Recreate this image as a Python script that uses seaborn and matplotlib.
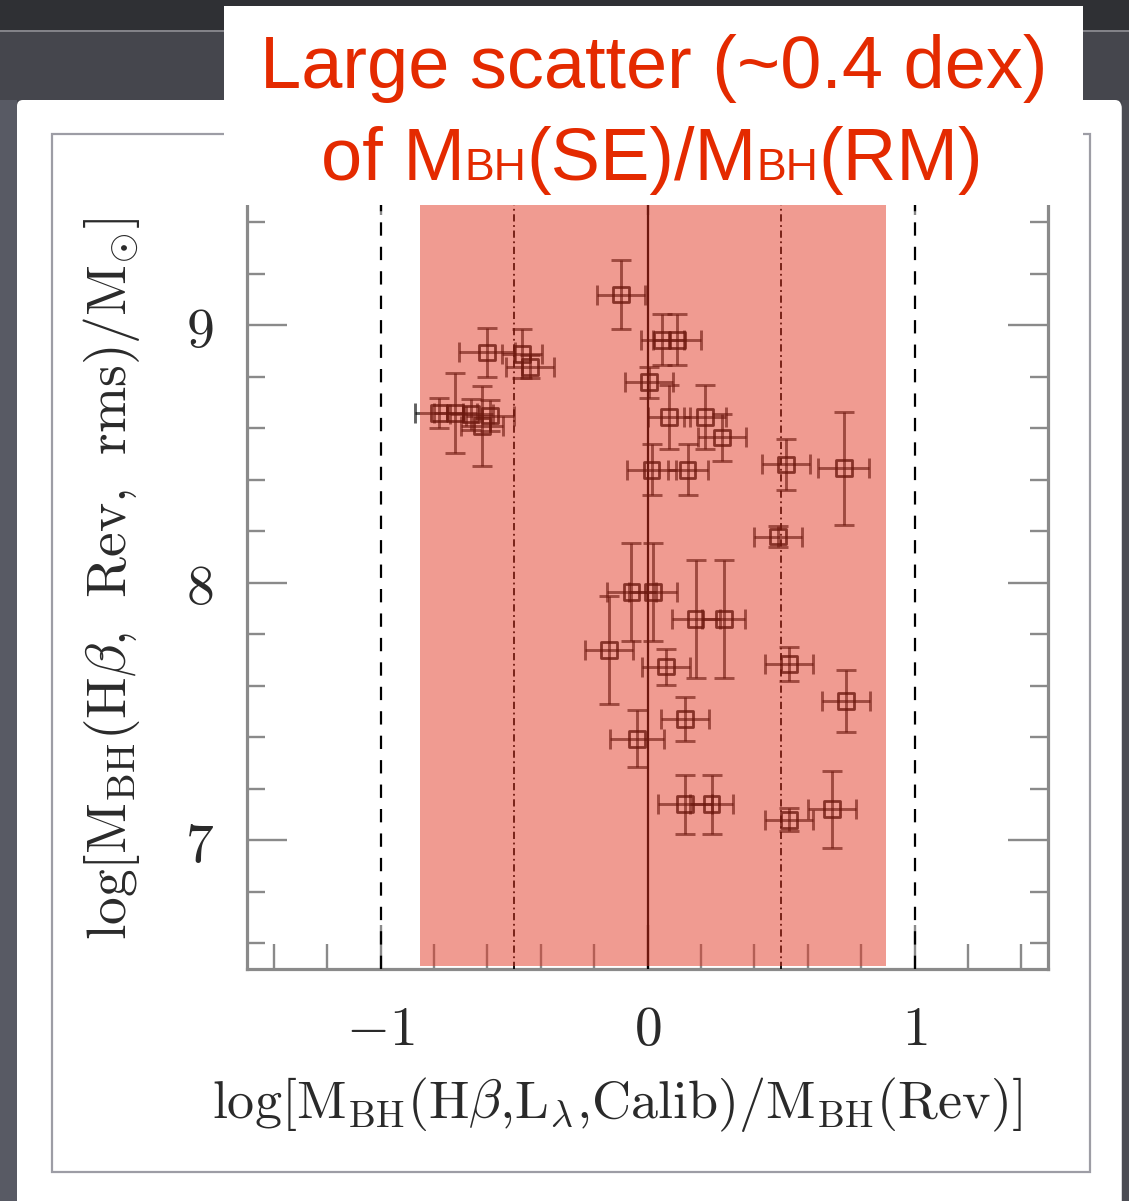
import matplotlib
matplotlib.use("Agg")
import matplotlib.pyplot as plt
import seaborn as sns
import pandas as pd
from matplotlib.patches import Rectangle, FancyBboxPatch
from matplotlib.ticker import MultipleLocator, FixedLocator

# log[M_BH(Hbeta, L, Calib) / M_BH(Rev)]
log_ratio = [-0.10, 0.055, 0.11, -0.60, -0.47, -0.44, 0.005, 0.08, 0.215, 0.28,
             0.015, 0.15, 0.52, 0.735, 0.49, -0.78, -0.72, -0.66, -0.59, -0.62,
             -0.06, 0.02, 0.18, 0.285, -0.145, 0.07, 0.53, 0.745, 0.14, -0.04,
             0.14, 0.24, 0.53, 0.69]
# log[M_BH(Hbeta, Rev, rms) / M_sun]
log_mass = [9.12, 8.945, 8.945, 8.895, 8.89, 8.84, 8.78, 8.645, 8.645, 8.565,
            8.44, 8.44, 8.46, 8.445, 8.18, 8.66, 8.66, 8.655, 8.65, 8.61,
            7.965, 7.965, 7.86, 7.86, 7.74, 7.675, 7.685, 7.54, 7.47, 7.395,
            7.14, 7.14, 7.08, 7.12]
ratio_err = [0.09, 0.08, 0.09, 0.105, 0.075, 0.09, 0.09, 0.08, 0.08, 0.09,
             0.09, 0.075, 0.09, 0.095, 0.09, 0.09, 0.08, 0.08, 0.09, 0.08,
             0.09, 0.09, 0.09, 0.08, 0.09, 0.09, 0.09, 0.09, 0.09, 0.10,
             0.10, 0.08, 0.09, 0.09]
mass_err = [0.135, 0.10, 0.10, 0.095, 0.095, 0.045, 0.06, 0.125, 0.125, 0.09,
            0.10, 0.10, 0.10, 0.22, 0.04, 0.06, 0.155, 0.06, 0.06, 0.155,
            0.19, 0.19, 0.23, 0.23, 0.21, 0.07, 0.065, 0.12, 0.085, 0.11,
            0.115, 0.115, 0.045, 0.15]

x_ticks = [-1, 0, 1]
x_tick_labels = [r"$-1$", r"$0$", r"$1$"]
y_ticks = [7, 8, 9]
y_tick_labels = [r"$7$", r"$8$", r"$9$"]
scatter_band = (-0.852, 0.893)
title_line1 = "Large scatter (~0.4 dex)"
title_line2 = [("of M", "main"), ("BH", "sub"), ("(SE)/M", "main"), ("BH", "sub"), ("(RM)", "main")]

df = pd.DataFrame({"ratio": log_ratio, "mass": log_mass,
                   "xerr": ratio_err, "yerr": mass_err})

sns.set_theme(style="ticks")
plt.rcParams["font.family"] = ["DejaVu Serif"]
plt.rcParams["mathtext.fontset"] = "cm"

W, H = 1129, 1201
fig = plt.figure(figsize=(W / 100, H / 100), dpi=100)
fig.patch.set_facecolor("#44454c")

# ---- slide backdrop (pixel coordinates, y downward) ----
bg = fig.add_axes([0, 0, 1, 1], zorder=-10)
bg.set_xlim(0, W)
bg.set_ylim(H, 0)
bg.axis("off")
bg.add_patch(Rectangle((0, 0), W, H, facecolor="#45464d", lw=0))
bg.add_patch(Rectangle((0, 0), W, 30, facecolor="#2f3034", lw=0))
bg.plot([0, W], [30.5, 30.5], color="#8f8f94", lw=1.2)
bg.add_patch(Rectangle((0, 100), 17, H - 100, facecolor="#585a64", lw=0))
bg.add_patch(Rectangle((1122, 100), 7, H - 100, facecolor="#4b4c53", lw=0))
bg.add_patch(FancyBboxPatch((19, 102), 1103, H, boxstyle="round,pad=0,rounding_size=6",
                            facecolor="#d6d6da", lw=0))
bg.add_patch(FancyBboxPatch((17, 100), 1104, H, boxstyle="round,pad=0,rounding_size=6",
                            facecolor="white", lw=0))
bg.add_patch(Rectangle((52, 134), 1038, 1038, facecolor="white",
                       edgecolor="#9d9da5", lw=1.6))

# ---- main plot ----
ax_top, ax_bottom = 171, 969
ax = fig.add_axes([247 / W, 1 - ax_bottom / H, 801 / W, (ax_bottom - ax_top) / H], zorder=0)
ax.set_facecolor("white")
ax.set_xlim(-1.5, 1.5)
ax.set_ylim(6.5, 9.6)

ax.axvline(0, color="black", lw=1.6, zorder=3)
for xv in (-0.5, 0.5):
    ax.axvline(xv, color="black", lw=1.3, ls=(0, (4, 2, 1, 2)), zorder=3)
for xv in (-1, 1):
    ax.axvline(xv, color="black", lw=1.6, ls=(0, (6, 5)), zorder=3)

ax.errorbar(df["ratio"], df["mass"], xerr=df["xerr"], yerr=df["yerr"], fmt="none",
            ecolor="black", elinewidth=2.1, capsize=7.5, capthick=2.1, alpha=0.62, zorder=4)
sns.scatterplot(data=df, x="ratio", y="mass", marker="s", s=130, facecolor="none",
                edgecolor="black", linewidth=2.0, alpha=0.8, ax=ax, zorder=5)

band_bottom = 0.004 * 772 / (ax_bottom - ax_top)
ax.axvspan(*scatter_band, ymin=band_bottom, ymax=1, facecolor="#e1331f", alpha=0.49,
           lw=0, zorder=20)

ax.xaxis.set_major_locator(FixedLocator(x_ticks))
ax.yaxis.set_major_locator(FixedLocator(y_ticks))
ax.xaxis.set_minor_locator(MultipleLocator(0.2))
ax.yaxis.set_minor_locator(MultipleLocator(0.2))
ax.set_xticklabels(x_tick_labels)
ax.set_yticklabels(y_tick_labels)
ax.tick_params(which="both", direction="in", top=True, right=True,
               color="#8a8a8a", width=1.7, labelcolor="#2a2a2a", labelsize=40)
ax.tick_params(axis="y", which="major", length=29, pad=24)
ax.tick_params(axis="y", which="minor", length=13)
ax.tick_params(axis="x", which="major", length=32, pad=24)
ax.tick_params(axis="x", which="minor", length=18)
for sp in ax.spines.values():
    sp.set_color("#8a8a8a")
    sp.set_linewidth(2.3)

ax.set_xlabel(r"$\mathrm{log[M_{BH}(H}\beta\mathrm{{,}L_{\lambda}{,}Calib)/M_{BH}(Rev)]}$",
              fontsize=39, color="#2a2a2a")
ax.set_ylabel(r"$\mathrm{log[M_{BH}(H}\beta\mathrm{{,}\ \ Rev{,}\ \ rms)/M_{\odot}]}$",
              fontsize=40, color="#2a2a2a")
ax_h = ax_bottom - ax_top
ax.xaxis.set_label_coords((617 - 247) / 801, (ax_bottom - 1105) / ax_h)
ax.yaxis.set_label_coords((112 - 247) / 801, (ax_bottom - 579) / ax_h)
ax.xaxis.label.set_va("center")
ax.yaxis.label.set_va("center")

# ---- callout box ----
ov = fig.add_axes([0, 0, 1, 1], zorder=10)
ov.set_xlim(0, W)
ov.set_ylim(H, 0)
ov.axis("off")
ov.patch.set_alpha(0)
ov.add_patch(Rectangle((224, 6), 859, 199, facecolor="white", lw=0))
red = "#e42a00"
ov.text(653.5, 88, title_line1, ha="center", va="baseline", fontsize=53.3,
        family=["Liberation Sans", "DejaVu Sans"], color=red)

renderer = fig.canvas.get_renderer()
pieces = []
for s, kind in title_line2:
    t = ov.text(0, 180, s, ha="left", va="baseline", fontsize=53.3 if kind == "main" else 32,
                family=["Liberation Sans", "DejaVu Sans"], color=red)
    pieces.append(t)
widths = [t.get_window_extent(renderer).width for t in pieces]
x0 = 652 - sum(widths) / 2
for t, w in zip(pieces, widths):
    t.set_x(x0)
    x0 += w

fig.savefig("out.png", dpi=100, facecolor=fig.get_facecolor())
